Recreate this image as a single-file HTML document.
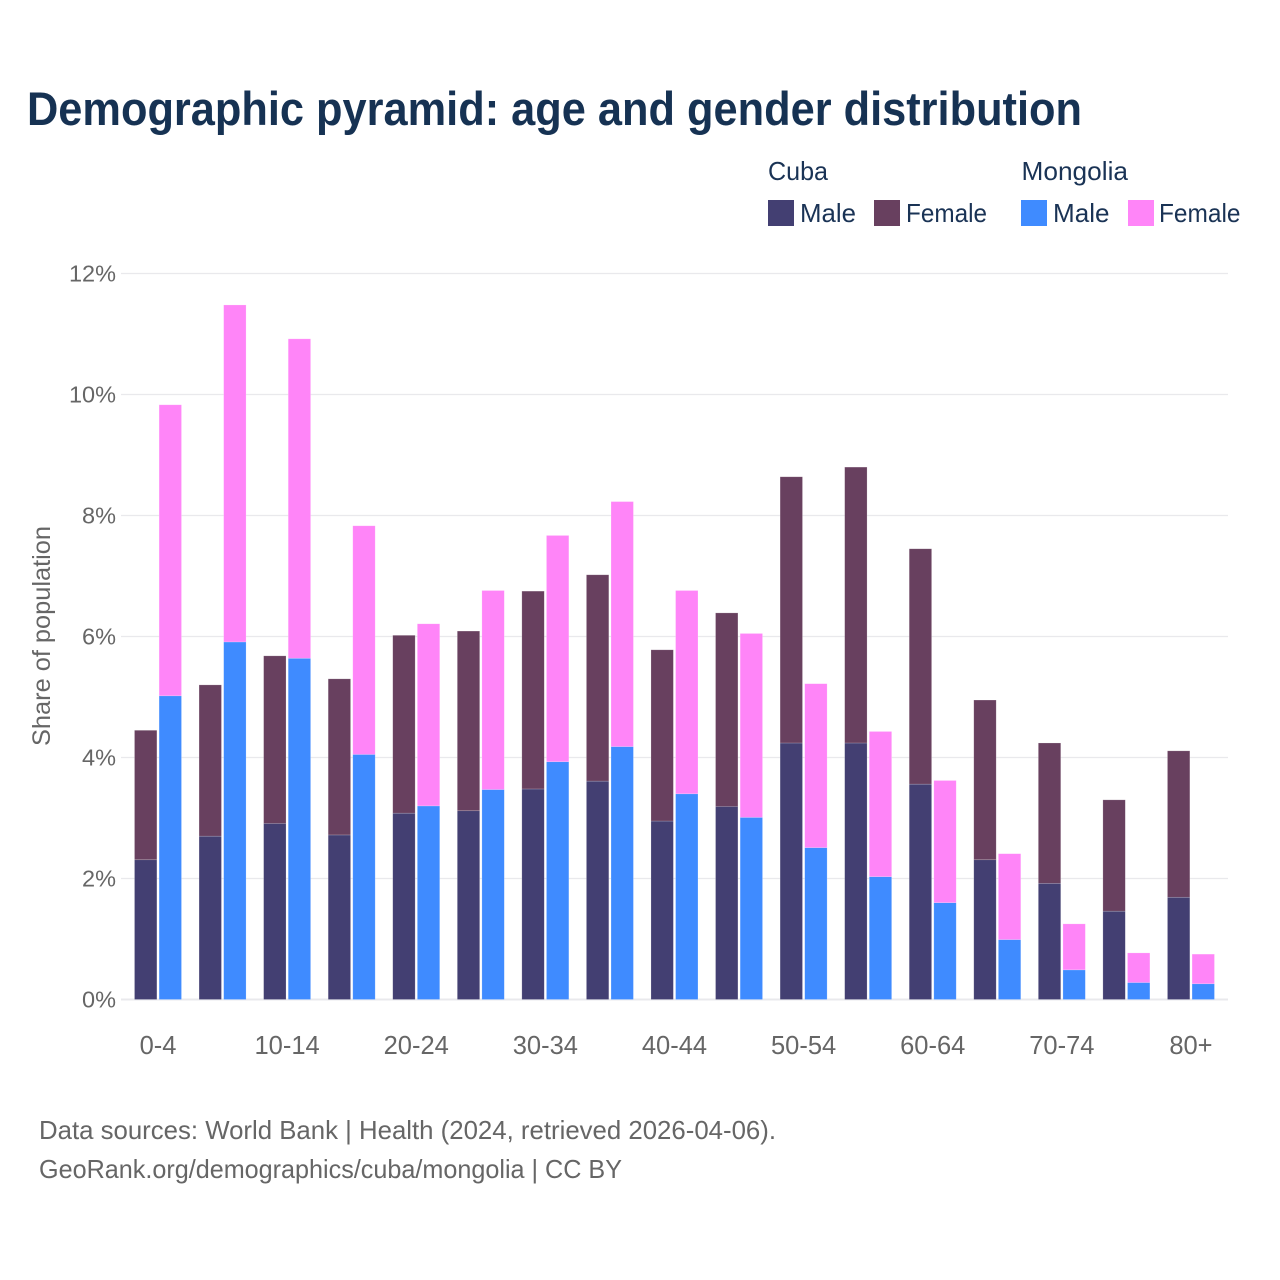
<!DOCTYPE html>
<html lang="en">
<head>
<meta charset="utf-8">
<title>Demographic pyramid</title>
<style>
html,body{margin:0;padding:0;background:#fff;}
svg{display:block;}
text{font-family:"Liberation Sans",sans-serif;}
</style>
</head>
<body>
<svg id="chart" xmlns="http://www.w3.org/2000/svg" width="1280" height="1280" viewBox="0 0 1280 1280">
  <rect x="0" y="0" width="1280" height="1280" fill="#fff"/>
  <text x="27" y="125" font-size="47" font-weight="700" fill="#163253" textLength="1055" lengthAdjust="spacingAndGlyphs">Demographic pyramid: age and gender distribution</text>

  <g font-size="26" fill="#1a3355">
    <text x="768" y="180" textLength="60" lengthAdjust="spacingAndGlyphs">Cuba</text>
    <text x="1021.5" y="180" textLength="106.5" lengthAdjust="spacingAndGlyphs">Mongolia</text>
    <rect x="768" y="200" width="26" height="26" fill="#433f72"/>
    <text x="800" y="222" textLength="56" lengthAdjust="spacingAndGlyphs">Male</text>
    <rect x="874" y="200" width="26" height="26" fill="#68405f"/>
    <text x="906" y="222" textLength="81" lengthAdjust="spacingAndGlyphs">Female</text>
    <rect x="1021" y="200" width="26" height="26" fill="#3f8bff"/>
    <text x="1053" y="222" textLength="56.5" lengthAdjust="spacingAndGlyphs">Male</text>
    <rect x="1128" y="200" width="26" height="26" fill="#ff85f8"/>
    <text x="1159" y="222" textLength="81.5" lengthAdjust="spacingAndGlyphs">Female</text>
  </g>

  <g id="grid"></g>
  <g id="yticks"></g>
  <g id="bars"></g>
  <g id="xticks"></g>

  <text transform="translate(50 636) rotate(-90)" text-anchor="middle" font-size="25" fill="#666" textLength="220" lengthAdjust="spacingAndGlyphs">Share of population</text>

  <text x="39" y="1139" font-size="26" fill="#666" textLength="737" lengthAdjust="spacingAndGlyphs">Data sources: World Bank | Health (2024, retrieved 2026-04-06).</text>
  <text x="39" y="1178" font-size="26" fill="#666" textLength="583" lengthAdjust="spacingAndGlyphs">GeoRank.org/demographics/cuba/mongolia | CC BY</text>
</svg>
<script>
const ageGroups = ["0-4","5-9","10-14","15-19","20-24","25-29","30-34","35-39","40-44","45-49","50-54","55-59","60-64","65-69","70-74","75-79","80+"];
const xTickLabels = ["0-4","10-14","20-24","30-34","40-44","50-54","60-64","70-74","80+"];
const yTickValues = [0,2,4,6,8,10,12];
const cubaMale = [2.31,2.70,2.91,2.72,3.08,3.12,3.48,3.61,2.95,3.19,4.24,4.24,3.56,2.31,1.92,1.46,1.69];
const cubaFemale = [2.14,2.50,2.77,2.58,2.94,2.97,3.27,3.41,2.83,3.20,4.40,4.56,3.89,2.64,2.32,1.84,2.42];
const mongoliaMale = [5.02,5.91,5.64,4.05,3.20,3.47,3.93,4.18,3.40,3.01,2.51,2.03,1.60,0.99,0.49,0.28,0.26];
const mongoliaFemale = [4.81,5.57,5.28,3.78,3.01,3.29,3.74,4.05,3.36,3.04,2.71,2.40,2.02,1.42,0.76,0.49,0.49];

const SVG_NS = 'http://www.w3.org/2000/svg';
const BAR_WIDTH = 22.4;
const BAR_GAP = 2.2;
const yScale = v => 999.5 - v * 60.5;
const xCenter = i => 158 + i * 64.56;

function makeRect(x, y0, y1, fill) {
  const r = document.createElementNS(SVG_NS, 'rect');
  r.setAttribute('x', x);
  r.setAttribute('y', y1);
  r.setAttribute('width', BAR_WIDTH);
  r.setAttribute('height', Math.max(0, y0 - y1));
  r.setAttribute('fill', fill);
  r.setAttribute('stroke', 'rgba(255,255,255,0.3)');
  r.setAttribute('stroke-width', '0.6');
  return r;
}

const gridG = document.getElementById('grid');
const yTickG = document.getElementById('yticks');
yTickValues.forEach(v => {
  const line = document.createElementNS(SVG_NS, 'line');
  line.setAttribute('x1', 121);
  line.setAttribute('x2', 1228);
  line.setAttribute('y1', yScale(v));
  line.setAttribute('y2', yScale(v));
  line.setAttribute('stroke', '#e9e9ec');
  line.setAttribute('stroke-width', v === 0 ? 2 : 1.2);
  
  
  gridG.appendChild(line);

  const t = document.createElementNS(SVG_NS, 'text');
  t.setAttribute('x', 116);
  t.setAttribute('y', yScale(v) + 8);
  t.setAttribute('text-anchor', 'end');
  t.setAttribute('font-size', '23.5');
  t.setAttribute('fill', '#666');
  
  
  t.textContent = v + '%';
  yTickG.appendChild(t);
});

const barsG = document.getElementById('bars');
ageGroups.forEach((age, i) => {
  const c = xCenter(i);
  const xCuba = c - BAR_GAP / 2 - BAR_WIDTH;
  const xMongolia = c + BAR_GAP / 2;

  const cm = makeRect(xCuba, yScale(0), yScale(cubaMale[i]), '#433f72');
  
  
  barsG.appendChild(cm);

  const cf = makeRect(xCuba, yScale(cubaMale[i]), yScale(cubaMale[i] + cubaFemale[i]), '#68405f');
  
  
  barsG.appendChild(cf);

  const mm = makeRect(xMongolia, yScale(0), yScale(mongoliaMale[i]), '#3f8bff');
  
  
  barsG.appendChild(mm);

  const mf = makeRect(xMongolia, yScale(mongoliaMale[i]), yScale(mongoliaMale[i] + mongoliaFemale[i]), '#ff85f8');
  
  
  barsG.appendChild(mf);
});

const xTickG = document.getElementById('xticks');
xTickLabels.forEach(label => {
  const t = document.createElementNS(SVG_NS, 'text');
  t.setAttribute('x', xCenter(ageGroups.indexOf(label)));
  t.setAttribute('y', 1054);
  t.setAttribute('text-anchor', 'middle');
  t.setAttribute('font-size', '25.5');
  t.setAttribute('fill', '#666');
  
  
  t.textContent = label;
  xTickG.appendChild(t);
});
</script>
</body>
</html>
